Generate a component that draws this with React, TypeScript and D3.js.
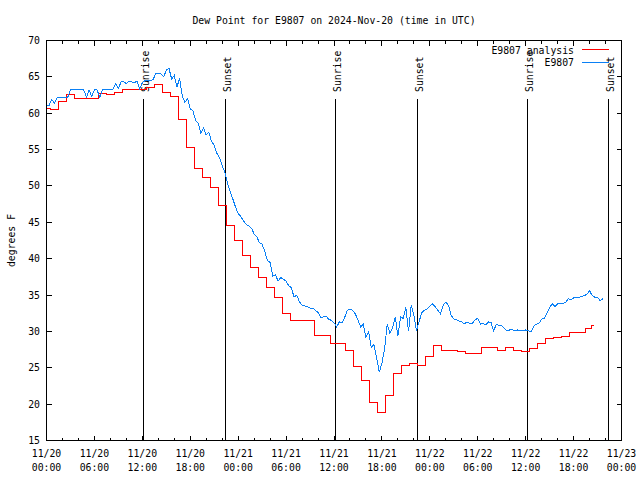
import { useEffect, useRef } from "react";
import { select, scaleUtc, scaleLinear, line, curveStep, curveLinear, utcHour, utcFormat } from "d3";

const title = "Dew Point for E9807 on 2024-Nov-20 (time in UTC)";
const yLabel = "degrees F";
const startTime = "2024-11-20T00:00:00Z";
const endTime = "2024-11-23T00:00:00Z";
const yTicks = [15, 20, 25, 30, 35, 40, 45, 50, 55, 60, 65, 70];

// analysis: one value per hour from startTime
const analysisName = "E9807 analysis";
const analysisValues = [
  60.7, 60.5, 61.55, 62.6, 62.0, 62.0, 62.0, 62.75, 62.6, 62.8, 63.2, 63.2,
  63.2, 63.5, 64.0, 62.9, 62.3, 59.1, 55.3, 52.4, 51.2, 49.8, 47.3, 44.6,
  42.5, 40.5, 38.8, 37.4, 36.0, 34.7, 32.4, 31.5, 31.5, 31.5, 29.4, 29.4,
  28.3, 28.3, 27.4, 25.2, 23.3, 20.2, 18.9, 21.2, 24.2, 25.3, 25.6, 25.3,
  26.5, 28.1, 27.4, 27.4, 27.3, 27.0, 27.0, 27.75, 27.75, 27.4, 27.75, 27.35,
  27.3, 27.6, 28.4, 29.0, 29.1, 29.35, 29.8, 29.8, 30.35, 30.8,
];
const analysisLastHour = 68.6;

// station observations: one value every 20 minutes from startTime
const obsName = "E9807";
const obsStepMinutes = 20;
const obsValues = [
  61.1, 61.1, 61.9, 61.4, 62.1, 62.2, 62.2, 62.2, 62.2, 63.2, 63.2, 63.2,
  63.2, 63.2, 63.2, 62.2, 63.2, 62.3, 63.2, 63.2, 62.2, 63.2, 63.2, 63.2,
  63.2, 63.3, 64.1, 63.4, 64.3, 64.3, 64.1, 64.4, 64.3, 64.2, 64.4, 63.3,
  64.2, 64.5, 64.5, 64.5, 64.6, 65.4, 65.4, 65.4, 65.0, 65.9, 66.2, 64.7,
  65.2, 63.6, 64.8, 62.4, 61.5, 62.0, 60.6, 60.4, 59.0, 58.6, 57.2, 58.0,
  57.0, 57.4, 56.1, 55.6, 54.5, 53.9, 52.8, 51.9, 50.4, 49.2, 48.2, 47.1,
  46.2, 45.8, 45.2, 44.7, 44.5, 44.2, 43.4, 43.0, 42.2, 42.0, 41.0, 39.7,
  39.5, 37.6, 37.8, 36.9, 37.4, 37.2, 36.9, 36.3, 36.0, 34.7, 35.0, 34.1,
  33.6, 33.5, 33.4, 33.2, 33.2, 32.9, 32.6, 31.9, 32.0, 32.1, 31.7, 31.5,
  31.2, 30.6, 31.3, 31.2, 31.9, 32.9, 33.1, 32.9, 32.4, 31.6, 30.6, 31.0,
  29.2, 29.9, 27.8, 28.2, 26.4, 24.4, 25.6, 27.6, 31.0, 29.7, 30.5, 32.0,
  29.4, 32.0, 31.8, 33.3, 30.0, 33.6, 32.2, 30.1, 31.4, 32.6, 32.9, 33.1,
  33.5, 33.8, 33.4, 32.9, 32.4, 33.6, 34.0, 33.6, 32.2, 31.7, 31.6, 31.4,
  31.3, 31.05, 31.3, 31.1, 31.1, 31.6, 31.8, 31.0, 31.1, 30.9, 31.3, 31.2,
  30.1, 31.0, 30.8, 30.8, 30.4, 30.1, 30.2, 30.2, 30.1, 30.2, 30.1, 30.1,
  30.2, 30.1, 29.9, 30.7, 31.0, 31.1, 31.7, 31.8, 32.5, 33.3, 33.8, 33.4,
  33.8, 33.9, 33.8, 34.0, 34.5, 34.3, 34.6, 34.7, 34.7, 34.8, 34.9, 35.1,
  35.6, 34.9, 34.7, 34.7, 34.2, 34.5,
];

const sunLabels = ["Sunrise", "Sunset", "Sunrise", "Sunset", "Sunrise", "Sunset"];
const sunTimes = [
  "2024-11-20T12:12:00Z",
  "2024-11-20T22:25:00Z",
  "2024-11-21T12:14:00Z",
  "2024-11-21T22:24:00Z",
  "2024-11-22T12:15:00Z",
  "2024-11-22T22:24:00Z",
];

const FONT = "'DejaVu Sans Mono', monospace";
const RED = "#ff0000";
const BLUE = "#0a80f5";

const drawDewPoint = (
  ref: SVGSVGElement,
  size = { w: 640, h: 480, m: { t: 40, r: 18, b: 40, l: 46 } }
) => {
  const svg = select(ref);
  svg.selectAll("*").remove();

  const left = size.m.l + 0.5;
  const right = size.w - size.m.r - 0.5;
  const top = size.m.t + 0.5;
  const bottom = size.h - size.m.b + 0.5;
  const t0 = new Date(startTime);
  const hour = 3600 * 1000;

  const x = scaleUtc().domain([t0, new Date(endTime)]).range([left, right]);
  const y = scaleLinear().domain([15, 70]).range([bottom, top]);

  const g = svg
    .append("g")
    .style("font-family", FONT)
    .style("font-size", "9.8px")
    .attr("fill", "black");

  // title
  g.append("text")
    .attr("x", (left + right) / 2)
    .attr("y", 24)
    .attr("text-anchor", "middle")
    .text(title);

  // y label
  g.append("text")
    .attr("transform", `translate(15, ${(top + bottom) / 2}) rotate(-90)`)
    .attr("text-anchor", "middle")
    .text(yLabel);

  const axes = g.append("g").attr("stroke", "black").attr("shape-rendering", "crispEdges");

  // y ticks, both sides
  yTicks.forEach((v) => {
    const yy = Math.round(y(v) - 0.5) + 0.5;
    axes.append("line").attr("x1", left).attr("x2", left + 5).attr("y1", yy).attr("y2", yy);
    axes.append("line").attr("x1", right - 5).attr("x2", right).attr("y1", yy).attr("y2", yy);
    g.append("text")
      .attr("x", 40)
      .attr("y", yy + 3.5)
      .attr("text-anchor", "end")
      .text(v);
  });

  // x ticks: minor every 2h, major every 6h, mirrored top
  const major = x.ticks(utcHour.every(6));
  const minor = x.ticks(utcHour.every(2));
  minor.forEach((d) => {
    const xx = Math.round(x(d) - 0.5) + 0.5;
    const isMajor = d.getUTCHours() % 6 === 0;
    const len = isMajor ? 5 : 3;
    axes.append("line").attr("x1", xx).attr("x2", xx).attr("y1", bottom).attr("y2", bottom - len);
    axes.append("line").attr("x1", xx).attr("x2", xx).attr("y1", top).attr("y2", top + len);
  });
  const fmtDay = utcFormat("%m/%d");
  const fmtTime = utcFormat("%H:%M");
  major.forEach((d) => {
    const lab = g.append("text").attr("text-anchor", "middle");
    lab.append("tspan").attr("x", x(d)).attr("y", 457).text(fmtDay(d));
    lab.append("tspan").attr("x", x(d)).attr("y", 471).text(fmtTime(d));
  });

  // sunrise / sunset markers
  sunTimes.forEach((s, i) => {
    const xx = Math.round(x(new Date(s)) - 0.5) + 0.5;
    axes.append("line").attr("x1", xx).attr("x2", xx).attr("y1", 99).attr("y2", bottom);
    g.append("text")
      .attr("transform", `translate(${xx + 5}, 92) rotate(-90)`)
      .attr("text-anchor", "start")
      .text(sunLabels[i]);
  });

  // series
  const analysisPts = analysisValues.map((v, i) => ({
    t: new Date(t0.getTime() + (i === analysisValues.length - 1 ? analysisLastHour : i) * hour),
    v,
  }));
  const obsPts = obsValues.map((v, i) => ({
    t: new Date(t0.getTime() + i * obsStepMinutes * 60 * 1000),
    v,
  }));

  const stepLine = line<any>()
    .x((d) => x(d.t))
    .y((d) => y(d.v))
    .curve(curveStep);
  const obsLine = line<any>()
    .x((d) => x(d.t))
    .y((d) => y(d.v))
    .curve(curveLinear);

  g.append("path")
    .attr("d", stepLine(analysisPts))
    .attr("fill", "none")
    .attr("stroke", RED)
    .attr("stroke-width", 1)
    .attr("shape-rendering", "crispEdges");

  g.append("path")
    .attr("d", obsLine(obsPts))
    .attr("fill", "none")
    .attr("stroke", BLUE)
    .attr("stroke-width", 1)
    .attr("shape-rendering", "crispEdges");

  // border
  axes.append("rect")
    .attr("x", left)
    .attr("y", top)
    .attr("width", right - left)
    .attr("height", bottom - top)
    .attr("fill", "none");

  // legend
  const legend = [
    { name: analysisName, color: RED, ty: 54, ly: 49.5 },
    { name: obsName, color: BLUE, ty: 66, ly: 62.5 },
  ];
  legend.forEach((l) => {
    g.append("text").attr("x", 574).attr("y", l.ty).attr("text-anchor", "end").text(l.name);
    g.append("line")
      .attr("x1", 582)
      .attr("x2", 609)
      .attr("y1", l.ly)
      .attr("y2", l.ly)
      .attr("stroke", l.color)
      .attr("shape-rendering", "crispEdges");
  });
};

export default function App() {
  const ref = useRef<SVGSVGElement>(null);

  useEffect(() => {
    if (ref.current) drawDewPoint(ref.current);
  }, []);

  return (
    <svg
      ref={ref}
      width={640}
      height={480}
      style={{ position: "absolute", left: 0, top: 0, background: "white" }}
    ></svg>
  );
}
